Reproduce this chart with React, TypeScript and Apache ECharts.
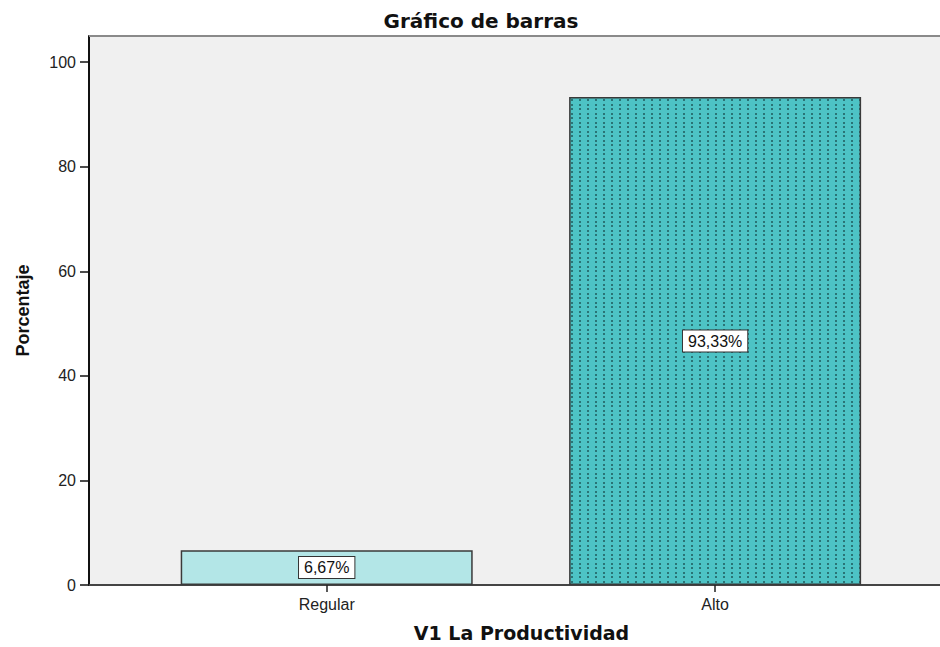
import React, { useEffect, useRef } from 'react';
import * as echarts from 'echarts';

const categories = ['Regular', 'Alto'];
const percentages = [6.67, 93.33];
const yTickValues = [0, 20, 40, 60, 80, 100];
const xTickValues = [0, 1];

function makeDotPattern(): string {
  const c = document.createElement('canvas');
  c.width = 8;
  c.height = 9;
  const ctx = c.getContext('2d');
  if (!ctx) return '';
  ctx.fillStyle = '#4dc3c5';
  ctx.fillRect(0, 0, 8, 9);
  ctx.fillStyle = '#2a7476';
  ctx.fillRect(3, 0, 2, 2);
  ctx.fillRect(3, 5, 2, 2);
  return c.toDataURL();
}

export default function App() {
  const ref = useRef<HTMLDivElement>(null);

  useEffect(() => {
    if (!ref.current) return;
    const chart = echarts.init(ref.current, undefined, { renderer: 'svg' });
    const pattern = makeDotPattern();
    const fills: any[] = [
      '#b3e6e7',
      { image: pattern, repeat: 'repeat' },
    ];
    const font = "'Liberation Sans', Arial, sans-serif";

    chart.setOption({
      animation: false,
      backgroundColor: '#ffffff',
      textStyle: { fontFamily: font },
      grid: {
        left: 89,
        right: 0,
        top: 36,
        bottom: 60,
        show: true,
        backgroundColor: '#f0f0f0',
        borderWidth: 0,
      },
      graphic: [
        {
          type: 'line',
          shape: { x1: 89, y1: 36, x2: 940, y2: 36 },
          style: { stroke: '#8a8a8a', lineWidth: 2 },
          z: 10,
        },
        {
          type: 'text',
          x: 481,
          y: 21,
          style: {
            text: 'Gráfico de barras',
            fontFamily: "'DejaVu Sans', sans-serif",
            fontWeight: 'bold',
            fontSize: 20,
            fill: '#111',
            textAlign: 'center',
            textVerticalAlign: 'middle',
          },
        },
      ],
      xAxis: {
        type: 'value',
        min: -0.612,
        max: 1.579,
        name: 'V1 La Productividad',
        nameLocation: 'middle',
        nameGap: 38,
        nameTextStyle: {
          fontFamily: "'DejaVu Sans', sans-serif",
          fontWeight: 'bold',
          fontSize: 19,
          color: '#111',
          padding: [0, 0, 0, 14],
        },
        axisLine: { show: true, onZero: false, lineStyle: { color: '#444', width: 2 } },
        axisTick: {
          show: true,
          customValues: xTickValues,
          length: 7,
          lineStyle: { color: '#222', width: 1.5 },
        },
        axisLabel: {
          customValues: xTickValues,
          formatter: (v: number) => categories[Math.round(v)] ?? '',
          fontSize: 16,
          color: '#222',
          margin: 11,
        },
        splitLine: { show: false },
      },
      yAxis: {
        type: 'value',
        min: 0,
        max: 105,
        name: 'Porcentaje',
        nameLocation: 'middle',
        nameGap: 57,
        nameTextStyle: {
          fontWeight: 'bold',
          fontSize: 18,
          color: '#111',
        },
        axisLine: { show: true, onZero: false, lineStyle: { color: '#111', width: 2 } },
        axisTick: {
          show: true,
          customValues: yTickValues,
          length: 9,
          lineStyle: { color: '#111', width: 1.5 },
        },
        axisLabel: {
          customValues: yTickValues,
          fontSize: 16,
          color: '#222',
          margin: 13,
        },
        splitLine: { show: false },
      },
      series: [
        {
          type: 'bar',
          barWidth: 292,
          data: categories.map((c, i) => ({
            name: c,
            value: [i, percentages[i]],
            itemStyle: { color: fills[i] },
          })),
          itemStyle: { borderColor: '#3a3a3a', borderWidth: 1.5 },
          label: {
            show: true,
            position: 'inside',
            formatter: (p: any) => p.value[1].toFixed(2).replace('.', ',') + '%',
            fontSize: 16,
            color: '#111',
            backgroundColor: '#ffffff',
            borderColor: '#333',
            borderWidth: 1,
            padding: [3, 5, 2, 5],
          },
        },
      ],
    });

    return () => chart.dispose();
  }, []);

  return (
    <div
      ref={ref}
      style={{ position: 'fixed', left: 0, top: 0, width: 940, height: 647 }}
    />
  );
}
